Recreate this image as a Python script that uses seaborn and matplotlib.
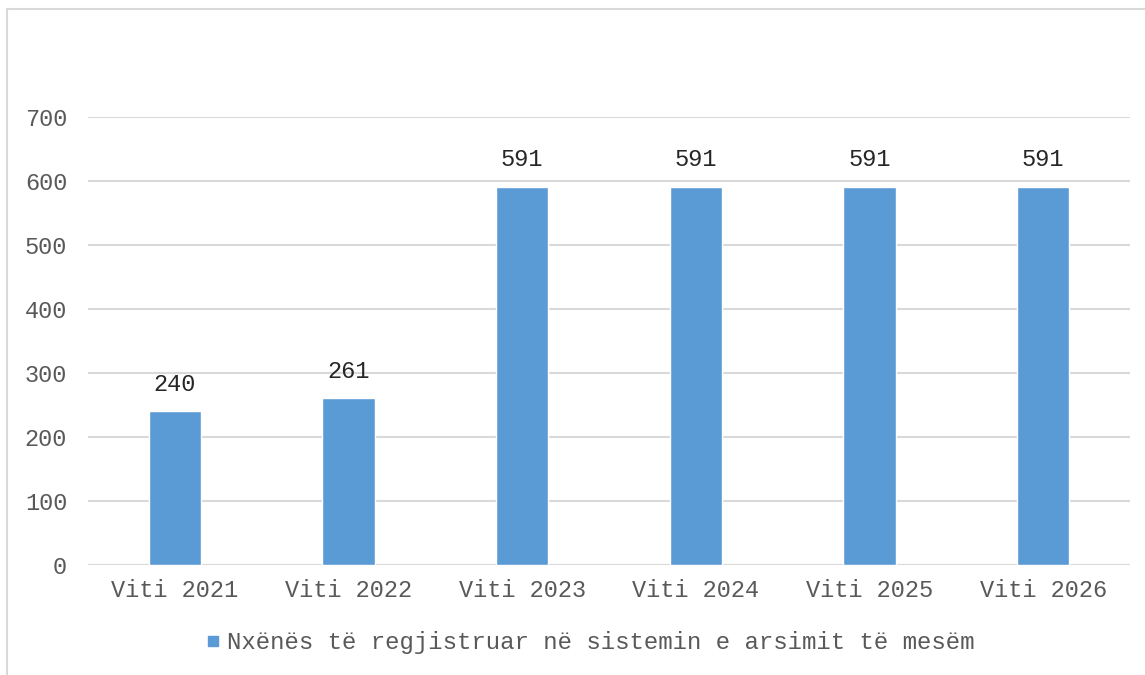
import matplotlib
matplotlib.use("Agg")
import matplotlib.pyplot as plt
import seaborn as sns
import pandas as pd
from matplotlib.patches import Rectangle
from matplotlib.lines import Line2D

categories = ["Viti 2021", "Viti 2022", "Viti 2023", "Viti 2024", "Viti 2025", "Viti 2026"]
values = [240, 261, 591, 591, 591, 591]
series_name = "Nxënës të regjistruar në sistemin e arsimit të mesëm"
yticks = [0, 100, 200, 300, 400, 500, 600, 700]

sns.set_theme(style="white")
plt.rcParams['font.family'] = ['Liberation Mono', 'DejaVu Sans Mono']

W, H = 1145, 675
fig = plt.figure(figsize=(W/100, H/100), dpi=100)
ax = fig.add_axes([88/W, 1-565/H, (1130-88)/W, (565-117)/H])

df = pd.DataFrame({"cat": categories, "val": values})
sns.barplot(data=df, x="cat", y="val", color="#5b9bd5", saturation=1, width=0.3, ax=ax, zorder=3)

ax.set_ylim(0, 700)
ax.set_xlim(-0.5, len(categories)-0.5)
ax.set_yticks(yticks)
ax.yaxis.grid(True, color="#d9d9d9", linewidth=1.5, zorder=0)
ax.xaxis.grid(False)
for s in ax.spines.values():
    s.set_visible(False)
ax.axhline(0, color="#d9d9d9", linewidth=1.5, zorder=2)
ax.set_xlabel("")
ax.set_ylabel("")
ax.tick_params(axis="y", labelsize=17, colors="#595959", length=0, pad=15)
ax.tick_params(axis="x", labelsize=17, colors="#595959", length=0, pad=10)

for i, v in enumerate(values):
    ax.annotate(str(v), (i, v), xytext=(0, 11), textcoords="offset points",
                ha="center", va="bottom", fontsize=17, color="#262626")

handle = Line2D([], [], marker="s", linestyle="none", markersize=7,
                markerfacecolor="#5b9bd5", markeredgecolor="#5b9bd5")
fig.legend([handle], [series_name], loc="center", bbox_to_anchor=(589/W, 1-643/H),
           frameon=False, fontsize=17.3, handletextpad=0.2, labelcolor="#595959",
           handlelength=0.8)

fig.patches.append(Rectangle((7/W, -0.1), 1.2, (1-9/H)+0.1, transform=fig.transFigure,
                             fill=False, edgecolor="#d9d9d9", linewidth=1.5))

fig.savefig("out.png", dpi=100)
